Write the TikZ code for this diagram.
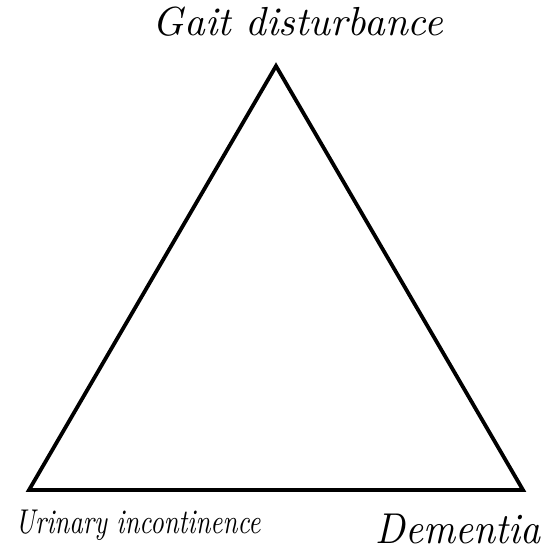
\documentclass[tikz,border=0pt]{standalone}
\usepackage{graphicx}
\tikzset{
  side/.style={line width=3.8pt, line join=miter, black},
  label/.style={inner sep=0pt, font=\itshape},
}
\begin{document}
\begin{tikzpicture}[x=1pt,y=-1pt]
\useasboundingbox (0,0) rectangle (554,554);
\coordinate (top) at (276,66);
\coordinate (bl) at (29,490);
\coordinate (br) at (523,490);
\draw[side] (top) -- (bl) -- (br) -- cycle;
\node[label, anchor=base] (gait) at (298,35) {\resizebox{290pt}{!}{\itshape Gait disturbance}};
\node[label, anchor=base] (uri) at (138,533) {\scalebox{1}[1.3]{\resizebox{245pt}{!}{\itshape Urinary incontinence}}};
\node[label, anchor=base] (dem) at (458,543) {\scalebox{1}[1.1]{\resizebox{165pt}{!}{\itshape Dementia}}};
\end{tikzpicture}
\end{document}
